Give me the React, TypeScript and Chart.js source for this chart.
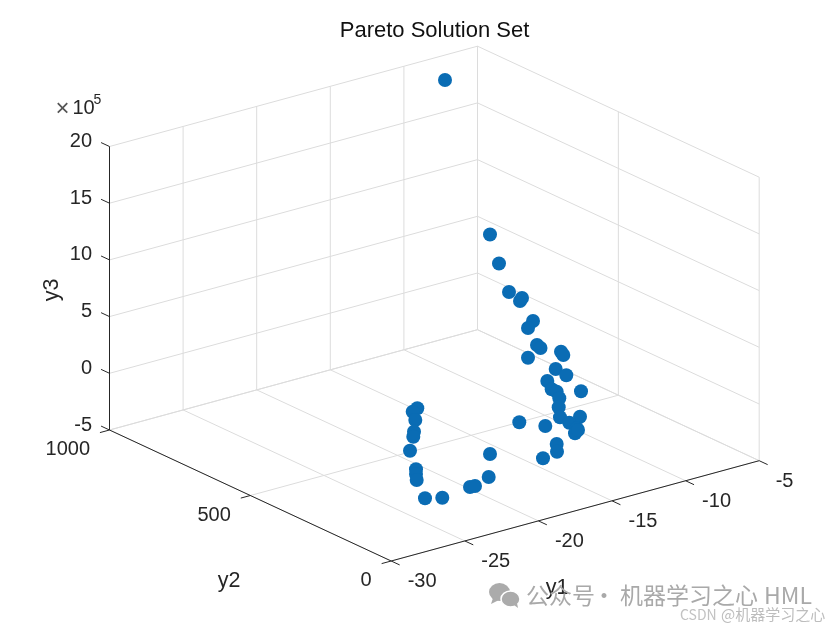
import React, { useEffect, useRef } from "react";
import { Chart, registerables } from "chart.js";

Chart.register(...registerables);

const chartTitle = "Pareto Solution Set";
const y1Ticks = [-30, -25, -20, -15, -10, -5];
const y2Ticks = [0, 500, 1000];
const y3Ticks = [-5, 0, 5, 10, 15, 20];

// Solution set, in the plane of the 3-D view
const viewX = [445, 490, 499, 509, 520, 522, 533, 528, 537, 540.5, 528, 561, 563.3, 555.7, 566.3, 547.3, 551.7, 556.7, 581, 559.3, 558.7, 560, 580, 569.3, 576.7, 575, 578, 545.3, 519.3, 556.7, 557, 543, 417.3, 412.7, 415.3, 414, 413.3, 410, 416, 416, 416.7, 425, 442.3, 470, 475, 488.7, 490];
const viewY = [80, 234.5, 263.5, 292, 301, 298, 321, 328, 345, 348, 357.7, 351.7, 355, 369, 375.3, 381, 389.3, 391.7, 391.3, 398.3, 407.3, 417.3, 416.7, 422.7, 428.3, 433.3, 430, 426, 422.3, 444, 451.7, 458.3, 408.3, 411.7, 420, 431.7, 436.7, 450.7, 469.3, 474, 480, 498.3, 497.7, 487, 486, 477, 454];

const INK = "#262626";
const GRID = "#dcdcdc";
const SANS = '"Liberation Sans", Arial, sans-serif';
const CJK = '"Noto Sans CJK SC", sans-serif';

// 3-D view: where y1=-30, y2=0, y3=-5 lands, and how far one unit moves
const project = (y1: number, y2: number, y3: number) => ({
  x: 391.2 + (y1 + 30) * 14.72 - y2 * 0.2817,
  y: 561 - (y1 + 30) * 4.012 - y2 * 0.131 - (y3 + 5) * 11.34,
});

const Y1A = y1Ticks[0], Y1B = y1Ticks[y1Ticks.length - 1];
const Y2A = y2Ticks[0], Y2B = y2Ticks[y2Ticks.length - 1];
const Y3A = y3Ticks[0], Y3B = y3Ticks[y3Ticks.length - 1];

type P = [number, number, number];
const gridSegs: [P, P][] = [];
for (const a of y1Ticks) {
  gridSegs.push([[a, Y2A, Y3A], [a, Y2B, Y3A]]);
  gridSegs.push([[a, Y2B, Y3A], [a, Y2B, Y3B]]);
}
for (const b of y2Ticks) {
  gridSegs.push([[Y1A, b, Y3A], [Y1B, b, Y3A]]);
  gridSegs.push([[Y1B, b, Y3A], [Y1B, b, Y3B]]);
}
for (const c of y3Ticks) {
  gridSegs.push([[Y1A, Y2B, c], [Y1B, Y2B, c]]);
  gridSegs.push([[Y1B, Y2B, c], [Y1B, Y2A, c]]);
}

const axisSegs: [P, P][] = [
  [[Y1A, Y2A, Y3A], [Y1B, Y2A, Y3A]],
  [[Y1A, Y2A, Y3A], [Y1A, Y2B, Y3A]],
  [[Y1A, Y2B, Y3A], [Y1A, Y2B, Y3B]],
];
for (const a of y1Ticks) axisSegs.push([[a, Y2A, Y3A], [a, Y2A - 30, Y3A]]);
for (const b of y2Ticks) axisSegs.push([[Y1A, b, Y3A], [Y1A - 0.65, b, Y3A]]);
for (const c of y3Ticks) axisSegs.push([[Y1A, Y2B, c], [Y1A, Y2B + 30, c]]);

const segDataset = (s: [P, P], color: string, width: number, order: number) => ({
  data: [project(...s[0]), project(...s[1])],
  showLine: true,
  borderColor: color,
  borderWidth: width,
  pointRadius: 0,
  pointHoverRadius: 0,
  order,
  clip: false,
});

const textPlugin = {
  id: "sceneText",
  afterDraw(chart: any) {
    const { ctx, scales } = chart;
    const px = (p: { x: number; y: number }) => ({
      x: scales.x.getPixelForValue(p.x),
      y: scales.y.getPixelForValue(p.y),
    });
    const put = (t: string, x: number, y: number, font: string, color: string, align: CanvasTextAlign) => {
      ctx.font = font;
      ctx.fillStyle = color;
      ctx.textAlign = align;
      ctx.textBaseline = "middle";
      ctx.fillText(t, x, y);
    };
    ctx.save();
    const tickFont = `20px ${SANS}`;
    for (const a of y1Ticks) {
      const p = px(project(a, Y2A, Y3A));
      put(String(a), p.x + 16.5, p.y + 20.5, tickFont, INK, "left");
    }
    for (const b of y2Ticks) {
      const p = px(project(Y1A, b, Y3A));
      put(String(b), p.x - 19.5, p.y + 19.5, tickFont, INK, "right");
    }
    for (const c of y3Ticks) {
      const p = px(project(Y1A, Y2B, c));
      put(String(c), p.x - 17.5, p.y - 5, tickFont, INK, "right");
    }
    const labelFont = `21.5px ${SANS}`;
    put("y1", 557, 588.5, labelFont, INK, "center");
    put("y2", 229, 581, labelFont, INK, "center");
    ctx.save();
    ctx.translate(52, 290);
    ctx.rotate(-Math.PI / 2);
    put("y3", 0, 0, labelFont, INK, "center");
    ctx.restore();
    // exponent
    put("×", 62.5, 109, `24px ${SANS}`, "#555555", "center");
    put("10", 72.5, 108, tickFont, INK, "left");
    put("5", 93.5, 100, `14px ${SANS}`, INK, "left");
    // watermark
    ctx.fillStyle = "#ababab";
    ctx.beginPath();
    ctx.ellipse(499.5, 592, 10.5, 9, 0, 0, Math.PI * 2);
    ctx.fill();
    ctx.beginPath();
    ctx.moveTo(493, 598);
    ctx.lineTo(491, 604);
    ctx.lineTo(499, 600);
    ctx.fill();
    ctx.strokeStyle = "#ffffff";
    ctx.lineWidth = 1.5;
    ctx.fillStyle = "#ababab";
    ctx.beginPath();
    ctx.ellipse(510.5, 599, 9.5, 8, 0, 0, Math.PI * 2);
    ctx.fill();
    ctx.stroke();
    ctx.beginPath();
    ctx.moveTo(514, 605);
    ctx.lineTo(518, 608);
    ctx.lineTo(517, 603);
    ctx.fill();
    const markFont = `23px ${CJK}`;
    put("公众号", 526, 595, markFont, "#a9a9a9", "left");
    put("·", 604, 595, markFont, "#a9a9a9", "center");
    put("机器学习之心", 620, 595, markFont, "#a9a9a9", "left");
    put("HML", 764, 595, markFont, "#a9a9a9", "left");
    put("CSDN", 680, 614.5, `14px ${CJK}`, "#c2c2c2", "left");
    put("@机器学习之心", 721, 614.5, `15px ${CJK}`, "#bdbdbd", "left");
    ctx.restore();
  },
};

export default function App() {
  const ref = useRef<HTMLCanvasElement>(null);
  useEffect(() => {
    const chart = new Chart(ref.current!, {
      type: "scatter",
      data: {
        datasets: [
          {
            label: "Pareto front",
            data: viewX.map((x, i) => ({ x, y: viewY[i] })),
            backgroundColor: "#0a6cb4",
            borderColor: "#0a6cb4",
            borderWidth: 0,
            pointRadius: 7,
            pointHoverRadius: 7,
            order: 0,
            clip: false,
          },
          ...axisSegs.map((s) => segDataset(s, INK, 1, 1)),
          ...gridSegs.map((s) => segDataset(s, GRID, 1, 2)),
        ] as any,
      },
      options: {
        animation: false,
        responsive: false,
        events: [],
        layout: { autoPadding: false, padding: { left: 29 } },
        plugins: {
          legend: { display: false },
          tooltip: { enabled: false },
          title: {
            display: true,
            text: chartTitle,
            fullSize: false,
            color: "#111111",
            font: { family: SANS, size: 22, weight: "normal", lineHeight: 1.2 },
            padding: { top: 18, bottom: 3.6 },
          },
        },
        scales: {
          x: { type: "linear", display: false, min: 29, max: 840 },
          y: { type: "linear", display: false, reverse: true, min: 48, max: 630 },
        },
      },
      plugins: [textPlugin],
    } as any);
    return () => chart.destroy();
  }, []);
  return (
    <canvas
      ref={ref}
      width={840}
      height={630}
      style={{ position: "absolute", left: 0, top: 0, display: "block", background: "#fff" }}
    />
  );
}
